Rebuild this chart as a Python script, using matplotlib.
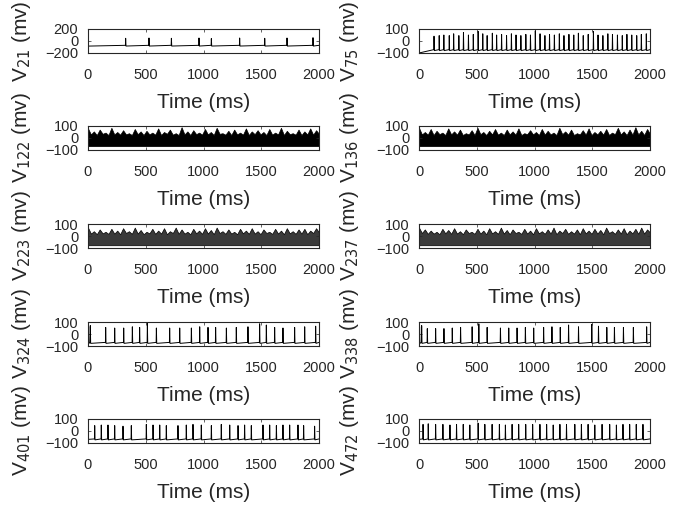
import numpy as np
import matplotlib.pyplot as plt

plt.rcParams['font.family'] = ['Liberation Sans', 'DejaVu Sans']

# neuron ids, in panel order (left column then right column per row)
neurons = ['21', '75', '122', '136', '223', '237', '324', '338', '401', '472']
x_ticks = [0, 500, 1000, 1500, 2000]

# sparse panels: spike times (ms) and spike peaks (mV)
v21_spk = [326, 528, 722, 961, 1068, 1313, 1530, 1723, 1948]
v21_pk = [45, 50, 45, 50, 40, 50, 45, 50, 55]

v75_spk = [130, 175, 215, 262, 300, 345, 385, 428, 470, 512, 552, 590, 635, 672, 715,
           758, 800, 840, 882, 925, 965, 1007, 1048, 1090, 1130, 1172, 1215, 1255, 1298,
           1340, 1380, 1422, 1465, 1510, 1550, 1592, 1635, 1675, 1718, 1760, 1800, 1842,
           1885, 1925, 1968]
v75_pk = [40, 45, 50, 45, 60, 45, 70, 50, 55, 80, 60, 45, 65, 50, 55, 45, 60, 50, 45, 55,
          50, 85, 60, 45, 55, 50, 60, 45, 55, 50, 65, 45, 55, 80, 50, 45, 60, 55, 50, 45,
          55, 50, 45, 55, 60]

v324_spk = [5, 20, 153, 231, 309, 384, 447, 514, 592, 707, 794, 895, 967, 1039, 1105, 1198,
            1284, 1385, 1486, 1544, 1616, 1688, 1789, 1876, 1971]
v324_pk = [60, 70, 55, 50, 50, 60, 55, 90, 50, 50, 50, 50, 60, 55, 55, 50, 55, 60, 85, 75,
           55, 50, 55, 60, 65]

v338_spk = [5, 23, 72, 144, 216, 288, 360, 460, 518, 590, 705, 777, 849, 921, 993, 1079,
            1151, 1223, 1295, 1381, 1496, 1554, 1626, 1692, 1770, 1856, 1971]
v338_pk = [60, 70, 45, 45, 45, 50, 55, 60, 85, 55, 50, 50, 50, 55, 50, 55, 60, 55, 75, 60,
           80, 65, 55, 55, 55, 55, 60]

v401_spk = [58, 115, 173, 231, 303, 375, 505, 563, 621, 678, 779, 851, 909, 981, 1068, 1154,
            1227, 1299, 1356, 1414, 1515, 1573, 1631, 1688, 1746, 1818, 1867, 1962]
v401_pk = [45, 50, 50, 45, 40, 45, 55, 50, 50, 45, 45, 50, 55, 50, 45, 55, 50, 45, 50, 45,
           50, 50, 45, 50, 50, 50, 45, 40]

v472_spk = [35, 80, 144, 207, 268, 325, 383, 440, 512, 570, 633, 696, 748, 806, 863, 924,
            984, 1047, 1105, 1162, 1220, 1277, 1349, 1406, 1464, 1522, 1585, 1651, 1709,
            1766, 1824, 1881, 1939]
v472_pk = [55, 60, 55, 55, 50, 55, 55, 50, 65, 55, 55, 55, 50, 55, 55, 55, 55, 55, 55, 50,
           55, 55, 55, 55, 55, 50, 55, 55, 50, 55, 55, 55, 55]

# dense panels: jagged upper envelope of the trace (mV) along 0..2000 ms, and trace minimum
v122_top = [80, 30, 55, 25, 70, 35, 45, 25, 85, 30, 50, 28, 65, 30, 40, 25, 75, 32, 55, 25,
            60, 30, 45, 28, 80, 25, 50, 35, 70, 28, 40, 25, 90, 30, 55, 25, 65, 32, 45, 28,
            75, 30, 50, 25, 85, 35, 40, 28, 60, 25, 70, 30, 45, 28, 80, 25, 55, 32, 65, 30,
            50, 25, 75, 28, 45, 30, 85, 25, 60, 32, 40, 28, 70, 25, 55, 30, 80, 28, 65, 35]
v122_low = -68
v136_top = [85, 30, 50, 28, 75, 25, 60, 32, 45, 25, 80, 30, 55, 28, 70, 25, 40, 30, 65, 25,
            85, 32, 50, 25, 60, 30, 75, 28, 45, 25, 70, 30, 55, 28, 80, 25, 40, 32, 65, 30,
            50, 25, 75, 28, 60, 30, 45, 25, 85, 32, 55, 28, 70, 25, 40, 30, 65, 28, 80, 25,
            50, 30, 60, 28, 75, 25, 45, 32, 85, 30, 55, 25, 70, 28, 90, 30, 60, 25, 75, 35]
v136_low = -68
v223_top = [70, 20, 40, 15, 55, 22, 35, 18, 60, 20, 45, 15, 65, 25, 40, 18, 70, 20, 50, 15,
            35, 22, 60, 18, 45, 20, 65, 15, 40, 25, 70, 18, 55, 20, 35, 15, 60, 22, 45, 18,
            65, 20, 50, 15, 70, 25, 40, 18, 55, 20, 35, 15, 60, 22, 45, 18, 65, 20, 40, 15,
            55, 25, 35, 18, 60, 20, 45, 15, 65, 22, 40, 18, 55, 20, 60, 15, 45, 25, 65, 30]
v223_low = -77
v237_top = [70, 25, 55, 18, 45, 20, 35, 15, 60, 22, 50, 18, 65, 20, 40, 15, 55, 25, 35, 18,
            60, 20, 45, 15, 65, 22, 40, 18, 70, 20, 50, 15, 55, 25, 35, 18, 60, 20, 45, 15,
            65, 22, 40, 18, 55, 20, 70, 15, 45, 25, 60, 18, 40, 20, 55, 15, 65, 22, 45, 18,
            60, 20, 50, 15, 70, 25, 40, 18, 55, 20, 65, 15, 45, 22, 60, 18, 70, 20, 55, 30]
v237_low = -77

txt = '#262626'
left_x = [88 / 689, 419 / 689]
ylab_x = [-0.237, -0.25]
row_top = [29, 126, 224, 322, 419]
ax_w, ax_h = 231 / 689, 24 / 508


def spike_trace(spk, pk, v0, base, reset):
    t, v = [0], [v0]
    for s, p in zip(spk, pk):
        t += [s - 2, s, s + 3]
        v += [base, p, reset]
    t.append(2000)
    v.append(base)
    return t, v


fig = plt.figure(figsize=(6.89, 5.08), dpi=100)
axes = []
for r in range(5):
    for c in range(2):
        b = 1 - (row_top[r] + 24) / 508
        axes.append(fig.add_axes([left_x[c], b, ax_w, ax_h]))

sparse = {0: (v21_spk, v21_pk, -85, -72, -84),
          1: (v75_spk, v75_pk, -100, -72, -80),
          6: (v324_spk, v324_pk, -75, -70, -78),
          7: (v338_spk, v338_pk, -75, -70, -78),
          8: (v401_spk, v401_pk, -70, -66, -74),
          9: (v472_spk, v472_pk, -70, -66, -74)}
dense = {2: (v122_top, v122_low, 'k'),
         3: (v136_top, v136_low, 'k'),
         4: (v223_top, v223_low, '#3a3a3a'),
         5: (v237_top, v237_low, '#3a3a3a')}

for i, ax in enumerate(axes):
    if i in sparse:
        spk, pk, v0, base, reset = sparse[i]
        t, v = spike_trace(spk, pk, v0, base, reset)
        ax.plot(t, v, color='k', lw=0.7)
    else:
        top, low, col = dense[i]
        tt = np.linspace(0, 2000, len(top))
        ax.fill_between(tt, low, top, facecolor=col, lw=0.5, edgecolor='k')
    ax.set_xlim(0, 2000)
    if i == 0:
        ax.set_ylim(-200, 200)
        ax.set_yticks([-200, 0, 200])
    else:
        ax.set_ylim(-100, 100)
        ax.set_yticks([-100, 0, 100])
    ax.set_xticks(x_ticks)
    ax.tick_params(direction='in', length=2.5, width=0.5, top=True, right=True,
                   labelsize=10.5, colors=txt)
    ax.tick_params(axis='x', pad=10.5)
    ax.tick_params(axis='y', pad=7)
    for sp in ax.spines.values():
        sp.set_linewidth(0.8)
        sp.set_color(txt)
    ax.set_xlabel('Time (ms)', fontsize=15, color=txt)
    ax.xaxis.set_label_coords(0.5, -1.68)
    ax.set_ylabel('V$_{' + neurons[i] + '}$ (mv)', fontsize=15, color=txt)
    ax.yaxis.set_label_coords(ylab_x[i % 2], 0.5)

fig.savefig('out.png', dpi=100)
